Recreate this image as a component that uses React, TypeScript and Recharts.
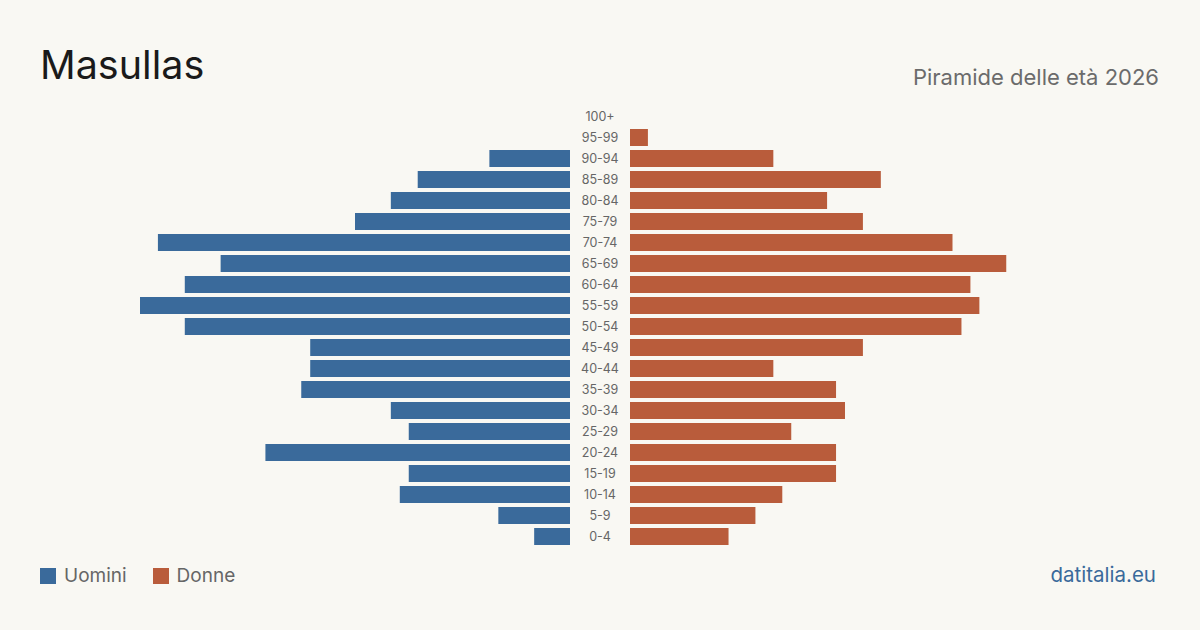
import React from "react";
import { BarChart, Bar, XAxis, YAxis } from "recharts";

// Age groups, top to bottom
const ageGroups = [
  "100+", "95-99", "90-94", "85-89", "80-84", "75-79", "70-74", "65-69",
  "60-64", "55-59", "50-54", "45-49", "40-44", "35-39", "30-34", "25-29",
  "20-24", "15-19", "10-14", "5-9", "0-4",
];
const men = [0, 0, 9, 17, 20, 24, 46, 39, 43, 48, 43, 29, 29, 30, 20, 18, 34, 18, 19, 8, 4];
const women = [0, 2, 16, 28, 22, 26, 36, 42, 38, 39, 37, 26, 16, 23, 24, 18, 23, 23, 17, 14, 11];

const maxValue = 48;

const data = ageGroups.map((age, i) => ({ age, men: men[i], women: women[i] }));

const BG = "#f9f8f3";
const BLUE = "#3a6a9b";
const ORANGE = "#b95c3b";
const FONT = "Inter, 'Noto Sans', sans-serif";

const CenterTick = (props: any) => {
  const { x, y, payload } = props;
  return (
    <text x={x + 22} y={y} dy={4} textAnchor="middle" fontSize={12.5} fill="#666" fontFamily={FONT}>
      {payload.value}
    </text>
  );
};

export default function App() {
  const chartTop = 106;
  const chartHeight = 441;
  return (
    <div
      style={{
        position: "absolute",
        left: 0,
        top: 0,
        width: 1200,
        height: 630,
        background: BG,
        fontFamily: FONT,
        overflow: "hidden",
      }}
    >
      <div style={{ position: "absolute", left: 40, top: 40, fontSize: 39.5, color: "#1a1a1a", lineHeight: "50px" }}>
        Masullas
      </div>
      <div style={{ position: "absolute", right: 41, top: 62, fontSize: 22, color: "#6b6b6b", lineHeight: "30px" }}>
        Piramide delle età 2026
      </div>

      {/* Men: bars grow to the left, age labels sit in the central gutter */}
      <div style={{ position: "absolute", left: 140, top: chartTop }}>
        <BarChart
          width={490}
          height={chartHeight}
          data={data}
          layout="vertical"
          margin={{ top: 0, right: 0, bottom: 0, left: 0 }}
          barSize={17}
        >
          <XAxis type="number" domain={[0, maxValue]} reversed hide />
          <YAxis
            type="category"
            dataKey="age"
            orientation="right"
            width={60}
            axisLine={false}
            tickLine={false}
            tick={<CenterTick />}
            interval={0}
          />
          <Bar dataKey="men" fill={BLUE} isAnimationActive={false} />
        </BarChart>
      </div>

      {/* Women: bars grow to the right */}
      <div style={{ position: "absolute", left: 630, top: chartTop }}>
        <BarChart
          width={430}
          height={chartHeight}
          data={data}
          layout="vertical"
          margin={{ top: 0, right: 0, bottom: 0, left: 0 }}
          barSize={17}
        >
          <XAxis type="number" domain={[0, maxValue]} hide />
          <YAxis type="category" dataKey="age" hide />
          <Bar dataKey="women" fill={ORANGE} isAnimationActive={false} />
        </BarChart>
      </div>

      {/* Legend */}
      <div style={{ position: "absolute", left: 40, top: 564, display: "flex", alignItems: "center", fontSize: 19, color: "#666" }}>
        <span style={{ width: 16, height: 16, background: BLUE, display: "inline-block", marginRight: 8 }} />
        <span style={{ marginRight: 26 }}>Uomini</span>
        <span style={{ width: 16, height: 16, background: ORANGE, display: "inline-block", marginRight: 8 }} />
        <span>Donne</span>
      </div>

      <div style={{ position: "absolute", right: 44, top: 562, fontSize: 20.5, color: BLUE }}>datitalia.eu</div>
    </div>
  );
}
